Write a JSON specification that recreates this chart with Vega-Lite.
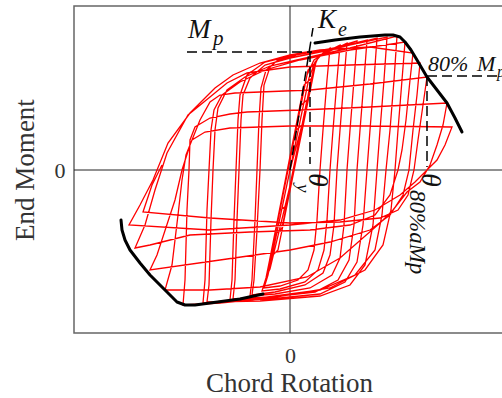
{
  "$schema": "https://vega.github.io/schema/vega-lite/v6.json",
  "width": 430,
  "height": 327,
  "autosize": "none",
  "padding": {"left": 74, "top": 6, "right": 0, "bottom": 65},
  "background": "white",
  "config": {"view": {"stroke": "#666", "strokeWidth": 1.5}},
  "datasets": {
    "loops": [
      {"o":0,"r":0,"m":0},{"o":1,"r":12,"m":45},{"o":2,"r":6,"m":40},{"o":3,"r":-10,"m":-40},{"o":4,"r":-4,"m":-36},
      {"o":5,"r":17,"m":70},{"o":6,"r":10,"m":64},{"o":7,"r":-15,"m":-65},{"o":8,"r":-8,"m":-58},{"o":9,"r":22,"m":92},
      {"o":10,"r":14,"m":85},{"o":11,"r":-20,"m":-88},{"o":12,"r":-12,"m":-80},{"o":13,"r":26,"m":108},{"o":14,"r":18,"m":100},
      {"o":15,"r":-23,"m":-105},{"o":16,"r":-20,"m":-99},{"o":17,"r":5,"m":5},{"o":18,"r":20,"m":85},{"o":19,"r":24,"m":103},
      {"o":20,"r":28,"m":112},{"o":21,"r":33,"m":117},{"o":22,"r":40,"m":122},{"o":23,"r":37,"m":90},{"o":24,"r":33,"m":40},
      {"o":25,"r":30,"m":0},{"o":26,"r":27,"m":-50},{"o":27,"r":24,"m":-80},{"o":28,"r":18,"m":-100},{"o":29,"r":8,"m":-110},
      {"o":30,"r":-10,"m":-116},{"o":31,"r":-26,"m":-118},{"o":32,"r":-22,"m":-105},{"o":33,"r":0,"m":0},{"o":34,"r":19,"m":92},
      {"o":35,"r":25,"m":108},{"o":36,"r":32,"m":116},{"o":37,"r":40,"m":120},{"o":38,"r":50,"m":125},{"o":39,"r":47,"m":90},
      {"o":40,"r":43,"m":40},{"o":41,"r":40,"m":0},{"o":42,"r":37,"m":-50},{"o":43,"r":34,"m":-80},{"o":44,"r":28,"m":-100},
      {"o":45,"r":15,"m":-112},{"o":46,"r":-10,"m":-119},{"o":47,"r":-28,"m":-121},{"o":48,"r":-24,"m":-108},{"o":49,"r":-3,"m":-5},
      {"o":50,"r":17,"m":95},{"o":51,"r":24,"m":110},{"o":52,"r":35,"m":117},{"o":53,"r":45,"m":121},{"o":54,"r":57,"m":127},
      {"o":55,"r":54,"m":90},{"o":56,"r":50,"m":40},{"o":57,"r":47,"m":0},{"o":58,"r":44,"m":-55},{"o":59,"r":40,"m":-85},
      {"o":60,"r":33,"m":-103},{"o":61,"r":15,"m":-115},{"o":62,"r":-15,"m":-122},{"o":63,"r":-38,"m":-125},{"o":64,"r":-36,"m":-110},
      {"o":65,"r":-33,"m":-60},{"o":66,"r":-30,"m":0},{"o":67,"r":-28,"m":50},{"o":68,"r":-26,"m":85},{"o":69,"r":-20,"m":103},
      {"o":70,"r":-10,"m":112},{"o":71,"r":10,"m":117},{"o":72,"r":40,"m":121},{"o":73,"r":67,"m":129},{"o":74,"r":64,"m":90},
      {"o":75,"r":60,"m":40},{"o":76,"r":57,"m":0},{"o":77,"r":54,"m":-55},{"o":78,"r":50,"m":-88},{"o":79,"r":42,"m":-105},
      {"o":80,"r":20,"m":-118},{"o":81,"r":-15,"m":-124},{"o":82,"r":-40,"m":-126},{"o":83,"r":-38,"m":-110},{"o":84,"r":-35,"m":-50},
      {"o":85,"r":-33,"m":0},{"o":86,"r":-31,"m":50},{"o":87,"r":-29,"m":82},{"o":88,"r":-24,"m":100},{"o":89,"r":-12,"m":110},
      {"o":90,"r":10,"m":116},{"o":91,"r":45,"m":122},{"o":92,"r":77,"m":130},{"o":93,"r":74,"m":90},{"o":94,"r":70,"m":40},
      {"o":95,"r":67,"m":0},{"o":96,"r":64,"m":-55},{"o":97,"r":59,"m":-90},{"o":98,"r":48,"m":-110},{"o":99,"r":25,"m":-122},
      {"o":100,"r":-20,"m":-127},{"o":101,"r":-57,"m":-129},{"o":102,"r":-55,"m":-110},{"o":103,"r":-53,"m":-50},{"o":104,"r":-51,"m":0},
      {"o":105,"r":-49,"m":50},{"o":106,"r":-47,"m":75},{"o":107,"r":-40,"m":92},{"o":108,"r":-25,"m":105},{"o":109,"r":0,"m":112},
      {"o":110,"r":40,"m":120},{"o":111,"r":87,"m":132},{"o":112,"r":84,"m":90},{"o":113,"r":80,"m":40},{"o":114,"r":77,"m":0},
      {"o":115,"r":73,"m":-55},{"o":116,"r":67,"m":-92},{"o":117,"r":55,"m":-112},{"o":118,"r":30,"m":-124},{"o":119,"r":-20,"m":-129},
      {"o":120,"r":-60,"m":-130},{"o":121,"r":-58,"m":-110},{"o":122,"r":-56,"m":-50},{"o":123,"r":-54,"m":0},{"o":124,"r":-52,"m":50},
      {"o":125,"r":-50,"m":75},{"o":126,"r":-43,"m":95},{"o":127,"r":-25,"m":108},{"o":128,"r":0,"m":114},{"o":129,"r":50,"m":123},
      {"o":130,"r":97,"m":133},{"o":131,"r":94,"m":90},{"o":132,"r":90,"m":40},{"o":133,"r":87,"m":0},{"o":134,"r":83,"m":-55},
      {"o":135,"r":75,"m":-95},{"o":136,"r":60,"m":-115},{"o":137,"r":30,"m":-126},{"o":138,"r":-30,"m":-131},{"o":139,"r":-83,"m":-132},
      {"o":140,"r":-81,"m":-115},{"o":141,"r":-79,"m":-50},{"o":142,"r":-77,"m":0},{"o":143,"r":-75,"m":40},{"o":144,"r":-72,"m":62},
      {"o":145,"r":-63,"m":80},{"o":146,"r":-45,"m":93},{"o":147,"r":-20,"m":104},{"o":148,"r":20,"m":113},{"o":149,"r":60,"m":122},
      {"o":150,"r":107,"m":134},{"o":151,"r":104,"m":90},{"o":152,"r":100,"m":40},{"o":153,"r":96,"m":0},{"o":154,"r":92,"m":-45},
      {"o":155,"r":85,"m":-80},{"o":156,"r":65,"m":-105},{"o":157,"r":30,"m":-120},{"o":158,"r":-30,"m":-128},{"o":159,"r":-87,"m":-133},
      {"o":160,"r":-85,"m":-110},{"o":161,"r":-83,"m":-40},{"o":162,"r":-81,"m":0},{"o":163,"r":-79,"m":40},{"o":164,"r":-76,"m":60},
      {"o":165,"r":-68,"m":75},{"o":166,"r":-50,"m":88},{"o":167,"r":-25,"m":100},{"o":168,"r":10,"m":110},{"o":169,"r":60,"m":120},
      {"o":170,"r":115,"m":128},{"o":171,"r":112,"m":90},{"o":172,"r":108,"m":40},{"o":173,"r":105,"m":0},{"o":174,"r":101,"m":-40},
      {"o":175,"r":93,"m":-75},{"o":176,"r":75,"m":-100},{"o":177,"r":40,"m":-118},{"o":178,"r":-20,"m":-128},{"o":179,"r":-70,"m":-133},
      {"o":180,"r":-107,"m":-135},{"o":181,"r":-105,"m":-110},{"o":182,"r":-103,"m":-40},{"o":183,"r":-101,"m":0},{"o":184,"r":-100,"m":30},
      {"o":185,"r":-95,"m":43},{"o":186,"r":-80,"m":52},{"o":187,"r":-60,"m":56},{"o":188,"r":-43,"m":58},{"o":189,"r":10,"m":60},
      {"o":190,"r":80,"m":63},{"o":191,"r":157,"m":67},{"o":192,"r":153,"m":45},{"o":193,"r":147,"m":25},{"o":194,"r":140,"m":5},
      {"o":195,"r":130,"m":-12},{"o":196,"r":117,"m":-22},{"o":197,"r":103,"m":-40},{"o":198,"r":90,"m":-53},{"o":199,"r":50,"m":-88},
      {"o":200,"r":17,"m":-107},{"o":201,"r":-30,"m":-117},{"o":202,"r":-80,"m":-120},{"o":203,"r":-125,"m":-120},{"o":204,"r":-118,"m":-95},
      {"o":205,"r":-112,"m":-45},{"o":206,"r":-108,"m":-10},{"o":207,"r":-104,"m":15},{"o":208,"r":-98,"m":30},{"o":209,"r":-85,"m":38},
      {"o":210,"r":-60,"m":42},{"o":211,"r":0,"m":44},{"o":212,"r":80,"m":44},{"o":213,"r":162,"m":43},{"o":214,"r":155,"m":25},
      {"o":215,"r":147,"m":10},{"o":216,"r":137,"m":0},{"o":217,"r":125,"m":-12},{"o":218,"r":110,"m":-25},{"o":219,"r":85,"m":-40},
      {"o":220,"r":50,"m":-50},{"o":221,"r":0,"m":-55},{"o":222,"r":-80,"m":-60},{"o":223,"r":-161,"m":-55},{"o":224,"r":-150,"m":-35},
      {"o":225,"r":-137,"m":-10},{"o":226,"r":-122,"m":27},{"o":227,"r":-100,"m":57},{"o":228,"r":-75,"m":82},{"o":229,"r":-57,"m":95},
      {"o":230,"r":-30,"m":107},{"o":231,"r":0,"m":115},{"o":232,"r":30,"m":120},{"o":233,"r":80,"m":123},{"o":234,"r":123,"m":117},
      {"o":235,"r":120,"m":90},{"o":236,"r":116,"m":50},{"o":237,"r":112,"m":20},{"o":238,"r":108,"m":0},{"o":239,"r":100,"m":-25},
      {"o":240,"r":85,"m":-45},{"o":241,"r":60,"m":-55},{"o":242,"r":20,"m":-60},{"o":243,"r":-40,"m":-62},{"o":244,"r":-100,"m":-65},
      {"o":245,"r":-140,"m":-75},{"o":246,"r":-155,"m":-78},{"o":247,"r":-145,"m":-55},{"o":248,"r":-135,"m":-20},{"o":249,"r":-123,"m":17},
      {"o":250,"r":-102,"m":55},{"o":251,"r":-80,"m":73},{"o":252,"r":-63,"m":87},{"o":253,"r":-43,"m":97},{"o":254,"r":0,"m":103},
      {"o":255,"r":60,"m":105},{"o":256,"r":130,"m":107},{"o":257,"r":127,"m":75},{"o":258,"r":123,"m":40},{"o":259,"r":119,"m":0},
      {"o":260,"r":113,"m":-25},{"o":261,"r":100,"m":-45},{"o":262,"r":80,"m":-60},{"o":263,"r":40,"m":-72},{"o":264,"r":0,"m":-80},
      {"o":265,"r":-70,"m":-90},{"o":266,"r":-140,"m":-100},{"o":267,"r":-133,"m":-85},{"o":268,"r":-115,"m":-30},{"o":269,"r":-108,"m":0},
      {"o":270,"r":-100,"m":25},{"o":271,"r":-90,"m":50},{"o":272,"r":-80,"m":68},{"o":273,"r":-70,"m":75},{"o":274,"r":-55,"m":77},
      {"o":275,"r":-30,"m":78},{"o":276,"r":20,"m":80},{"o":277,"r":80,"m":86},{"o":278,"r":137,"m":93},{"o":279,"r":133,"m":65},
      {"o":280,"r":128,"m":30},{"o":281,"r":124,"m":0},{"o":282,"r":118,"m":-25},{"o":283,"r":108,"m":-40},{"o":284,"r":90,"m":-48},
      {"o":285,"r":50,"m":-52},{"o":286,"r":0,"m":-53},{"o":287,"r":-80,"m":-48},{"o":288,"r":-147,"m":-42},{"o":289,"r":-138,"m":-15},
      {"o":290,"r":-128,"m":5}
    ],
    "envelope": [
      {"s":"p","o":0,"r":25,"m":127},{"s":"p","o":1,"r":45,"m":130},{"s":"p","o":2,"r":70,"m":133},{"s":"p","o":3,"r":95,"m":135},
      {"s":"p","o":4,"r":103,"m":135},{"s":"p","o":5,"r":110,"m":133},{"s":"p","o":6,"r":115,"m":128},{"s":"p","o":7,"r":121,"m":120},
      {"s":"p","o":8,"r":127,"m":110},{"s":"p","o":9,"r":137,"m":93},{"s":"p","o":10,"r":147,"m":80},{"s":"p","o":11,"r":157,"m":67},
      {"s":"p","o":12,"r":165,"m":52},{"s":"p","o":13,"r":172,"m":38},
      {"s":"n","o":0,"r":-169,"m":-50},{"s":"n","o":1,"r":-168,"m":-60},{"s":"n","o":2,"r":-165,"m":-70},{"s":"n","o":3,"r":-160,"m":-80},
      {"s":"n","o":4,"r":-150,"m":-93},{"s":"n","o":5,"r":-140,"m":-105},{"s":"n","o":6,"r":-130,"m":-115},{"s":"n","o":7,"r":-120,"m":-125},
      {"s":"n","o":8,"r":-113,"m":-132},{"s":"n","o":9,"r":-105,"m":-135},{"s":"n","o":10,"r":-95,"m":-135},{"s":"n","o":11,"r":-80,"m":-133},
      {"s":"n","o":12,"r":-50,"m":-129},{"s":"n","o":13,"r":-27,"m":-124}
    ],
    "dashed": [
      {"s":"mp","o":0,"r":-103,"m":118},{"s":"mp","o":1,"r":22,"m":118},
      {"s":"ke","o":0,"r":0,"m":0},{"s":"ke","o":1,"r":23,"m":142},
      {"s":"ty","o":0,"r":20,"m":118},{"s":"ty","o":1,"r":20,"m":6},
      {"s":"h80","o":0,"r":137,"m":94},{"s":"h80","o":1,"r":216,"m":94},
      {"s":"v80","o":0,"r":137,"m":94},{"s":"v80","o":1,"r":137,"m":3}
    ]
  },
  "layer": [
    {
      "data": {"values": [{"r": 0}]},
      "mark": {"type": "rule", "color": "#222", "strokeWidth": 1},
      "encoding": {
        "x": {"field": "r", "type": "quantitative", "scale": {"domain": [-216, 214], "nice": false, "zero": false},
          "axis": {"values": [0], "ticks": false, "tickSize": 0, "domain": false, "grid": false, "labelPadding": 12,
            "labelFont": "Liberation Serif", "labelFontSize": 22, "labelColor": "#333",
            "title": "Chord Rotation", "titleFont": "Liberation Serif", "titleFontSize": 27, "titleFontWeight": "normal", "titleColor": "#333", "titlePadding": 4}}
      }
    },
    {
      "data": {"values": [{"m": 0}]},
      "mark": {"type": "rule", "color": "#222", "strokeWidth": 1},
      "encoding": {
        "y": {"field": "m", "type": "quantitative", "scale": {"domain": [-163, 164], "nice": false, "zero": false},
          "axis": {"values": [0], "ticks": false, "tickSize": 0, "domain": false, "grid": false, "labelPadding": 9,
            "labelFont": "Liberation Serif", "labelFontSize": 22, "labelColor": "#333",
            "title": "End Moment", "titleFont": "Liberation Serif", "titleFontSize": 27, "titleFontWeight": "normal", "titleColor": "#333", "titlePadding": 15}}
      }
    },
    {
      "data": {"name": "loops"},
      "mark": {"type": "line", "color": "#ff0000", "strokeWidth": 1.3},
      "encoding": {
        "x": {"field": "r", "type": "quantitative"},
        "y": {"field": "m", "type": "quantitative"},
        "order": {"field": "o", "type": "quantitative"}
      }
    },
    {
      "data": {"name": "envelope"},
      "mark": {"type": "line", "color": "#000", "strokeWidth": 3, "strokeCap": "round", "strokeJoin": "round"},
      "encoding": {
        "x": {"field": "r", "type": "quantitative"},
        "y": {"field": "m", "type": "quantitative"},
        "detail": {"field": "s"},
        "order": {"field": "o", "type": "quantitative"}
      }
    },
    {
      "data": {"name": "dashed"},
      "mark": {"type": "line", "color": "#000", "strokeWidth": 1.5, "strokeDash": [10, 5]},
      "encoding": {
        "x": {"field": "r", "type": "quantitative"},
        "y": {"field": "m", "type": "quantitative"},
        "detail": {"field": "s"},
        "order": {"field": "o", "type": "quantitative"}
      }
    },
    {
      "data": {"values": [
        {"t": "M", "r": -102, "m": 132, "sz": 27},
        {"t": "p", "r": -77, "m": 125, "sz": 21},
        {"t": "K", "r": 28, "m": 142, "sz": 27},
        {"t": "e", "r": 48, "m": 134, "sz": 20},
        {"t": "80%", "r": 138, "m": 99, "sz": 22},
        {"t": "M", "r": 187, "m": 99, "sz": 22},
        {"t": "p", "r": 207, "m": 93, "sz": 16}
      ]},
      "mark": {"type": "text", "font": "Liberation Serif", "fontStyle": "italic", "color": "#111", "align": "left", "baseline": "alphabetic"},
      "encoding": {
        "x": {"field": "r", "type": "quantitative"},
        "y": {"field": "m", "type": "quantitative"},
        "text": {"field": "t"},
        "size": {"field": "sz", "type": "quantitative", "scale": null}
      }
    },
    {
      "data": {"values": [
        {"t": "θ", "r": 27, "m": -3, "sz": 28},
        {"t": "y", "r": 13, "m": -14, "sz": 19},
        {"t": "θ", "r": 140, "m": -3, "sz": 28},
        {"t": "80%aMp", "r": 127, "m": -20, "sz": 23}
      ]},
      "mark": {"type": "text", "font": "Liberation Serif", "fontStyle": "italic", "color": "#111", "align": "left", "baseline": "middle", "angle": 90},
      "encoding": {
        "x": {"field": "r", "type": "quantitative"},
        "y": {"field": "m", "type": "quantitative"},
        "text": {"field": "t"},
        "size": {"field": "sz", "type": "quantitative", "scale": null}
      }
    }
  ]
}
